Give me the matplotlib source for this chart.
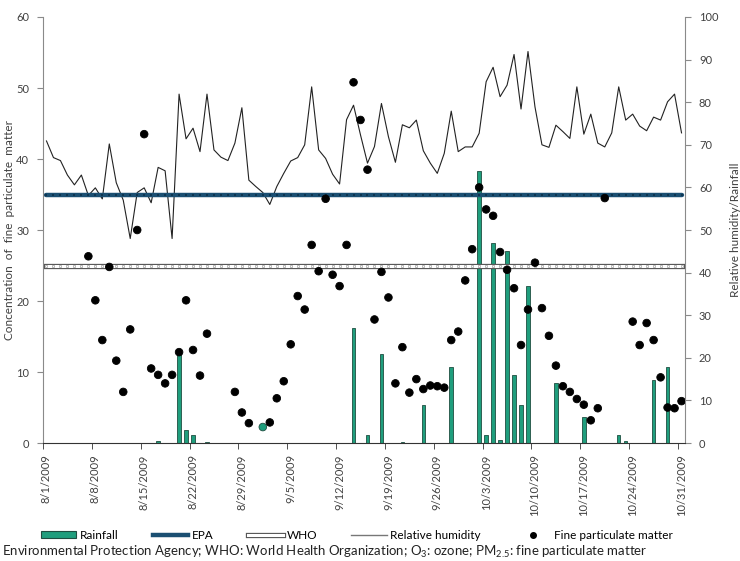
import matplotlib
matplotlib.use('Agg')
import matplotlib.pyplot as plt
import matplotlib.patheffects as pe
from matplotlib.lines import Line2D
from matplotlib.patches import Patch
import numpy as np

plt.rcParams['font.family'] = ['Lato', 'DejaVu Sans']
plt.rcParams['mathtext.default'] = 'regular'

# daily series, 8/1/2009 .. 10/31/2009 (92 days)
tick_labels = ["8/1/2009", "8/8/2009", "8/15/2009", "8/22/2009", "8/29/2009",
               "9/5/2009", "9/12/2009", "9/19/2009", "9/26/2009", "10/3/2009",
               "10/10/2009", "10/17/2009", "10/24/2009", "10/31/2009"]

humidity = [70.9, 67.0, 66.3, 62.9, 60.6, 62.9, 58.1, 59.9, 57.3, 70.2,
            61.1, 57.0, 48.0, 58.8, 59.9, 56.4, 64.7, 63.9, 48.0, 81.9,
            71.4, 73.9, 68.4, 81.9, 68.8, 67.1, 66.3, 70.4, 78.7, 61.7,
            60.2, 58.8, 56.0, 60.2, 63.3, 66.2, 67.0, 70.0, 83.6, 68.8,
            66.8, 63.1, 60.8, 75.9, 79.3, 72.3, 65.7, 69.6, 79.7, 71.9,
            65.9, 74.7, 74.0, 75.8, 68.6, 65.7, 63.3, 68.0, 77.9, 68.4,
            69.5, 69.5, 72.7, 84.8, 88.2, 81.3, 84.0, 91.2, 78.4, 91.9,
            78.9, 70.0, 69.4, 74.6, 73.1, 71.5, 83.6, 72.5, 77.2, 70.4,
            69.5, 72.8, 83.6, 75.8, 77.2, 74.4, 73.3, 76.5, 75.8, 80.1,
            81.9, 72.8]

nan = np.nan
pm25 = [nan, nan, nan, nan, nan, nan, 26.3, 20.1, 14.5, 24.8,
        11.6, 7.2, 16.0, 30.0, 43.5, 10.5, 9.6, 8.4, 9.6, 12.8,
        20.1, 13.1, 9.5, 15.4, nan, nan, nan, 7.2, 4.3, 2.8,
        nan, 2.25, 2.9, 6.3, 8.7, 13.9, 20.7, 18.8, 27.9, 24.2,
        34.4, 23.7, 22.1, 27.9, 50.8, 45.5, 38.5, 17.4, 24.1, 20.5,
        8.4, 13.5, 7.1, 9.0, 7.6, 8.1, 8.0, 7.8, 14.5, 15.7,
        22.9, 27.3, 36.0, 32.9, 32.0, 26.9, 24.4, 21.8, 13.8, 18.8,
        25.4, 19.0, 15.1, 10.9, 8.0, 7.2, 6.2, 5.4, 3.2, 4.9,
        34.5, nan, nan, nan, 17.1, 13.8, 16.9, 14.5, 9.25, 5.0,
        4.9, 5.9]
pm_highlight = [31]

rain_days = [16, 19, 20, 21, 23, 44, 46, 48, 51, 54, 58, 62, 63, 64, 65,
             66, 67, 68, 69, 73, 77, 82, 83, 87, 89]
rain_mm = [0.55, 21.0, 3.0, 2.0, 0.3, 27.0, 2.0, 21.0, 0.2, 9.0, 17.9, 63.9,
           2.0, 46.9, 0.6, 45.0, 16.0, 9.0, 36.9, 14.1, 6.0, 2.0, 0.4, 14.9, 17.8]

epa_limit = 35
who_limit = 25

teal = '#1f9e7d'
teal_edge = '#1e4d40'
navy = '#1b4f72'
grey = '#8a8a8a'
txt = '#404040'

days = np.arange(len(humidity))

fig = plt.figure(figsize=(7.4, 5.61), dpi=100)
ax = fig.add_axes([0.0581, 0.2103, 0.8676, 0.7594])
ax2 = ax.twinx()
ax.set_zorder(ax2.get_zorder() + 1)
ax.patch.set_visible(False)

# right axis: rainfall + humidity
ax2.bar(rain_days, rain_mm, width=0.5, color=teal, edgecolor=teal_edge, linewidth=0.6)
ax2.plot(days, humidity, color='#222222', lw=0.8)

# left axis: limits + PM2.5
ax.plot(days, np.full(len(days), epa_limit), color=navy, lw=3.2, solid_capstyle='round')
ax.plot(days, np.full(len(days), epa_limit), ls='none', marker='s', ms=1.6,
        mfc='#0f3550', mec='#0f3550', mew=0)
ax.plot(days, np.full(len(days), who_limit), color='white', lw=2.2,
        path_effects=[pe.Stroke(linewidth=3.8, foreground='#555555'), pe.Normal()])
ax.plot(days, np.full(len(days), who_limit), ls='none', marker='s', ms=1.6,
        mfc='white', mec='#888888', mew=0.4)

pm_col = ['black'] * len(pm25)
pm_edge = ['black'] * len(pm25)
for d in pm_highlight:
    pm_col[d] = teal
    pm_edge[d] = teal_edge
ax.scatter(days, pm25, s=30, c=pm_col, edgecolors=pm_edge, linewidths=0.6, zorder=5)

ax.set_xlim(-0.5, 91.5)
ax.set_ylim(0, 60)
ax2.set_ylim(0, 100)

ax.set_xticks(np.arange(0, 92, 7))
ax.set_xticklabels(tick_labels, rotation=90, fontsize=8, color=txt)
ax.tick_params(axis='x', which='major', length=0, pad=8)
ax.set_xticks(np.arange(-0.5, 92, 7), minor=True)
ax.tick_params(axis='x', which='minor', length=4, color='#333333', direction='out')

ax.set_yticks(np.arange(0, 61, 10))
ax2.set_yticks(np.arange(0, 101, 10))
ax.tick_params(axis='y', labelsize=8, labelcolor=txt, color=grey, length=4, pad=6)
ax2.tick_params(axis='y', labelsize=8, labelcolor=txt, color=grey, length=4, pad=6)

for a in (ax, ax2):
    a.spines['top'].set_visible(False)
ax.spines['left'].set_color(grey)
ax.spines['right'].set_visible(False)
ax.spines['bottom'].set_color('#333333')
ax2.spines['right'].set_color(grey)
ax2.spines['left'].set_visible(False)
ax2.spines['bottom'].set_visible(False)

ax.set_ylabel('Concentration  of  fine  particulate  matter', fontsize=8.5, color=txt, labelpad=1)
ax2.set_ylabel('Relative humidity/Rainfall', fontsize=8.5, color=txt, labelpad=8)

handles = [
    Patch(facecolor=teal, edgecolor=teal_edge, linewidth=0.8),
    Line2D([], [], color=navy, lw=3.2),
    Line2D([], [], color='white', lw=2.2,
           path_effects=[pe.Stroke(linewidth=3.8, foreground='#555555'), pe.Normal()]),
    Line2D([], [], color='#777777', lw=1.0),
    Line2D([], [], ls='none', marker='o', color='black', ms=4),
]
labels = ['Rainfall', 'EPA', 'WHO', 'Relative humidity', 'Fine particulate matter']
fig.legend(handles, labels, loc='center', bbox_to_anchor=(0.482, 0.046), ncol=5,
           frameon=False, fontsize=8.5, handlelength=3.0, handletextpad=0.3,
           columnspacing=2.9, handleheight=0.6, borderpad=0.1)

fig.text(0.003, 0.001, 'Environmental Protection Agency; WHO: World Health Organization; '
         'O$_3$: ozone; PM$_{2.5}$: fine particulate matter',
         fontsize=9.5, color='#222222', ha='left', va='bottom')

fig.savefig('out.png', dpi=100)
